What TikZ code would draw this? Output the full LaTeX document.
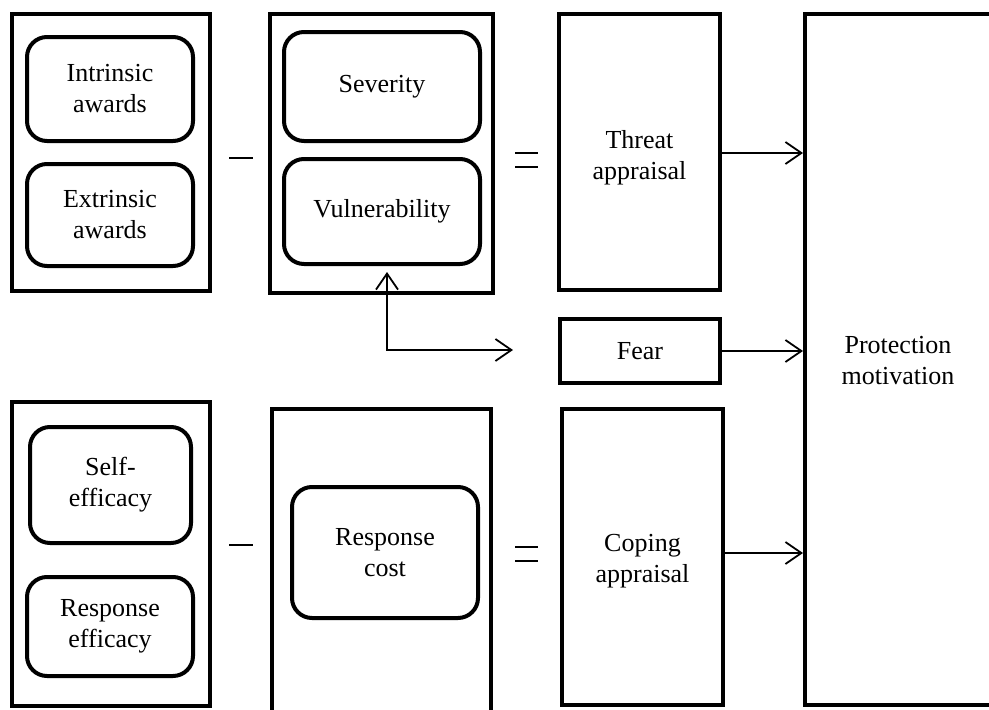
\documentclass[tikz,border=0pt]{standalone}
\usepackage{fontspec}
\setmainfont{Liberation Serif}
\usetikzlibrary{arrows.meta}
\begin{document}
\begin{tikzpicture}[x=1pt,y=-1pt,
  every node/.style={font=\fontsize{26}{31}\selectfont, align=center, inner sep=0pt},
  frame/.style={draw, line width=4pt, rectangle},
  pill/.style={draw, line width=4pt, rounded corners=20pt},
  tip/.tip={Straight Barb[length=16pt,width=22pt]},
  conn/.style={line width=1.8pt, -tip},
  dual/.style={line width=1.8pt, tip-tip},
  sign/.style={line width=2pt}]
\clip (0,0) rectangle (989,710);

% threat side: rewards minus threat components
\node[frame, minimum width=198pt, minimum height=277pt] (rew) at (111,152.5) {};
\node[pill, minimum width=166pt, minimum height=104pt] (intr) at (110,89) {Intrinsic\\awards};
\node[pill, minimum width=166pt, minimum height=102pt] (extr) at (110,215) {Extrinsic\\awards};

\node[frame, minimum width=223pt, minimum height=279pt] (thr) at (381.5,153.5) {};
\node[pill, minimum width=196pt, minimum height=109pt] (sev) at (382,86.5) {Severity};
\node[pill, minimum width=196pt, minimum height=105pt] (vul) at (382,211.5) {Vulnerability};

\node[frame, minimum width=161pt, minimum height=276pt] (tapp) at (639.5,152) {};
\node (tapplbl) at ([yshift=-6pt]tapp.center) {Threat\\appraisal};
\node[frame, minimum width=160pt, minimum height=64pt] (fear) at (640,351) {Fear};

% coping side: efficacy minus cost
\node[frame, minimum width=198pt, minimum height=304pt] (eff) at (111,554) {};
\node[pill, minimum width=161pt, minimum height=116pt] (self) at (110.5,485) {Self-\\efficacy};
\node[pill, minimum width=166pt, minimum height=99pt] (resp) at (110,626.5) {Response\\efficacy};

\node[frame, minimum width=219pt, minimum height=321pt] (costbox) at (381.5,569.5) {};
\node[pill, minimum width=186pt, minimum height=131pt] (cost) at (385,552.5) {Response\\cost};

\node[frame, minimum width=161pt, minimum height=296pt] (capp) at (642.5,557) {};
\node (capplbl) at ([yshift=-4pt]capp.center) {Coping\\appraisal};

% outcome
\node[frame, minimum width=188pt, minimum height=691pt] (prot) at (899,359.5) {};
\node (protlbl) at (898,361) {Protection\\motivation};

% operators
\draw[sign] (229,158) -- (253,158);
\draw[sign] (515,153) -- (538,153);
\draw[sign] (515,167) -- (538,167);
\draw[sign] (229,545) -- (253,545);
\draw[sign] (515,547) -- (538,547);
\draw[sign] (515,561) -- (538,561);

% connectors
\draw[conn] (tapp.east |- 0,153) -- (prot.west |- 0,153);
\draw[conn] (fear.east) -- (prot.west |- fear.east);
\draw[conn] (capp.east |- 0,553) -- (prot.west |- 0,553);
\coordinate (fearin) at (513,350);
\draw[dual] ([xshift=5pt,yshift=-6pt]vul.south) |- (fearin);
\end{tikzpicture}
\end{document}
